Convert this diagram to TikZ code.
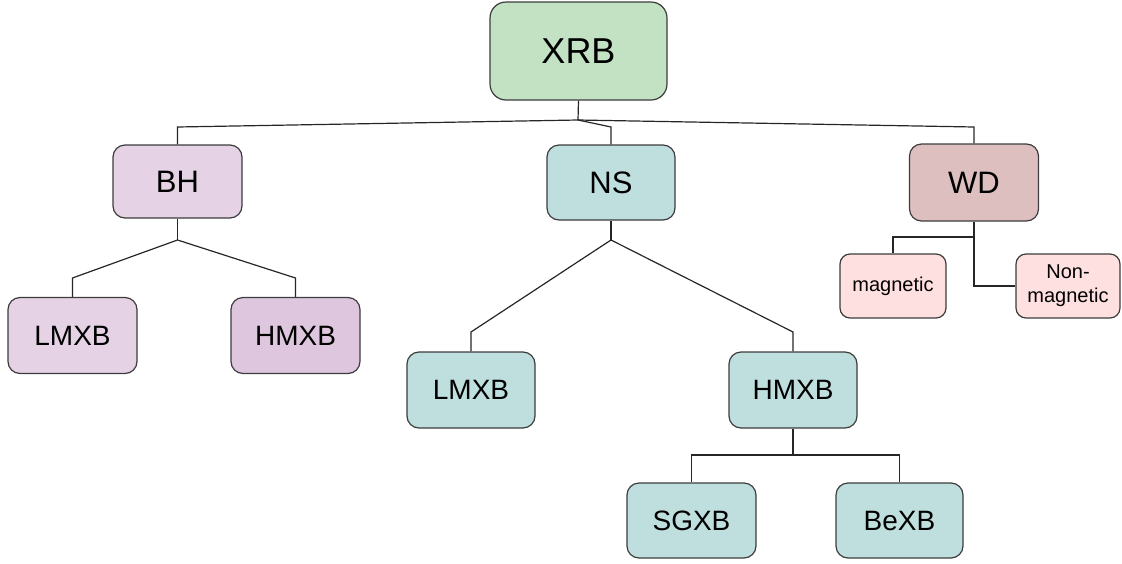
\documentclass[tikz,border=0pt]{standalone}
\usepackage{fontspec}
\setmainfont{Liberation Sans}
\usepackage{xcolor}
\definecolor{xrbgreen}{RGB}{195,225,195}
\definecolor{bhpurple}{RGB}{229,211,229}
\definecolor{bhpurpledark}{RGB}{222,199,222}
\definecolor{nsteal}{RGB}{190,223,221}
\definecolor{wdrose}{RGB}{222,191,192}
\definecolor{wdpink}{RGB}{255,224,224}
\definecolor{edge}{RGB}{60,60,60}

\begin{document}
\begin{tikzpicture}[
  x=1pt, y=-1pt,
  block/.style={draw=edge, line width=1.2pt, rounded corners=12pt,
    minimum width=129pt, minimum height=76pt, inner sep=0pt, align=center,
    font=\fontsize{28}{32}\selectfont},
  topblock/.style={block, font=\fontsize{31}{35}\selectfont},
  smallblock/.style={block, minimum width=105pt, minimum height=64pt,
    rounded corners=10pt, font=\fontsize{20}{24}\selectfont},
  link/.style={draw=black!85, line width=1.2pt}
]
\useasboundingbox (0,0) rectangle (1122,563);

\node[block, fill=xrbgreen, minimum width=177pt, minimum height=98pt,
  rounded corners=16pt, font=\fontsize{36}{40}\selectfont] (xrb) at (578.5,51) {XRB};

\node[topblock, fill=bhpurple, minimum height=73pt] (bh) at (177.5,181.5) {BH};
\node[topblock, fill=nsteal, minimum width=128pt, minimum height=75pt] (ns) at (611,182.5) {NS};
\node[topblock, fill=wdrose, minimum height=77pt] (wd) at (974,182.5) {WD};

\node[block, fill=bhpurple] (bhlmxb) at (72.5,335.5) {LMXB};
\node[block, fill=bhpurpledark] (bhhmxb) at (295.5,335.5) {HMXB};

\node[block, fill=nsteal, minimum width=128pt] (nslmxb) at (471,390) {LMXB};
\node[block, fill=nsteal, minimum width=128pt] (nshmxb) at (793,390) {HMXB};

\node[block, fill=nsteal, minimum height=75pt] (sgxb) at (691.5,520.5) {SGXB};
\node[block, fill=nsteal, minimum width=127pt, minimum height=75pt] (bexb) at (899.5,520.5) {BeXB};

\node[smallblock, fill=wdpink, minimum width=106pt] (mag) at (893,286) {magnetic};
\node[smallblock, fill=wdpink, minimum width=104pt] (nonmag) at (1068,286) {Non-\\magnetic};

\coordinate (j0) at (578,120);
\coordinate (row1) at (0,127);
\coordinate (jbh) at (177.5,240);
\coordinate (row2) at (0,278);
\coordinate (jns) at (611,240);
\coordinate (row3) at (0,332);
\coordinate (jhmxb) at (793,455);
\coordinate (jwd) at (974,237);
\coordinate (jnon) at (974,286);

\draw[link] (xrb.south) -- (j0);
\draw[link] (j0) -- (bh.north |- row1) -- (bh.north);
\draw[link] (j0) -- (ns.north |- row1) -- (ns.north);
\draw[link] (j0) -- (wd.north |- row1) -- (wd.north);

\draw[link] (bh.south) -- (jbh);
\draw[link] (jbh) -- (bhlmxb.north |- row2) -- (bhlmxb.north);
\draw[link] (jbh) -- (bhhmxb.north |- row2) -- (bhhmxb.north);

\draw[link] (ns.south) -- (jns);
\draw[link] (jns) -- (nslmxb.north |- row3) -- (nslmxb.north);
\draw[link] (jns) -- (nshmxb.north |- row3) -- (nshmxb.north);

\draw[link] (nshmxb.south) -- (jhmxb);
\draw[link] (jhmxb) -| (sgxb.north);
\draw[link] (jhmxb) -| (bexb.north);

\draw[link] (wd.south) -- (jwd);
\draw[link] (jwd) -| (mag.north);
\draw[link] (jwd) -- (jnon) -- (nonmag.west);

\end{tikzpicture}
\end{document}
